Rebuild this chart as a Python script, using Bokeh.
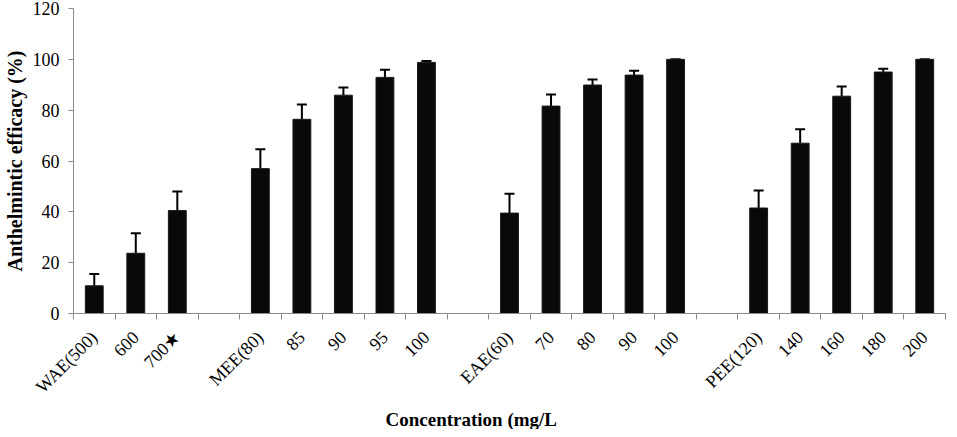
import math
from bokeh.plotting import figure
from bokeh.models import ColumnDataSource, FixedTicker, Whisker, TeeHead, Title, Range1d
from bokeh.embed import file_html
from bokeh.resources import INLINE

# ---- data ----
wae_labels = ["WAE(500)", "600", "700\u2605"]
wae_values = [10.9, 23.7, 40.5]
wae_sd = [4.6, 7.9, 7.5]

mee_labels = ["MEE(80)", "85", "90", "95", "100"]
mee_values = [57.0, 76.4, 85.9, 92.9, 98.8]
mee_sd = [7.6, 5.8, 3.0, 3.0, 0.5]

eae_labels = ["EAE(60)", "70", "80", "90", "100"]
eae_values = [39.5, 81.6, 89.9, 93.8, 100.0]
eae_sd = [7.6, 4.6, 2.2, 1.7, 0.0]

pee_labels = ["PEE(120)", "140", "160", "180", "200"]
pee_values = [41.5, 67.0, 85.5, 95.0, 100.0]
pee_sd = [6.9, 5.5, 3.8, 1.3, 0.0]

y_ticks = [0, 20, 40, 60, 80, 100, 120]

groups = [
    (wae_labels, wae_values, wae_sd),
    (mee_labels, mee_values, mee_sd),
    (eae_labels, eae_values, eae_sd),
    (pee_labels, pee_values, pee_sd),
]

# slot positions: one empty slot between groups
xs, labels, vals, tops = [], [], [], []
slot = 0
for gi, (lab, v, sd) in enumerate(groups):
    if gi > 0:
        slot += 1
    for l, a, s in zip(lab, v, sd):
        xs.append(slot + 0.5)
        labels.append(l)
        vals.append(a)
        tops.append(a + s)
        slot += 1
n_slots = slot

src = ColumnDataSource(dict(x=xs, val=vals, top=tops))

FONT = "Liberation Serif"
GRAY = "#8a8a8a"

p = figure(width=948, height=429, output_backend="svg", toolbar_location=None,
           x_range=Range1d(0, n_slots), y_range=Range1d(0, 120),
           min_border_left=66, min_border_right=3, min_border_top=8,
           min_border_bottom=110)
p.outline_line_color = None
p.grid.visible = False
p.background_fill_color = "white"

p.vbar(x="x", top="val", bottom=0, width=0.43, source=src,
       fill_color="#0a0808", line_color="#1a1818", line_width=1)

w = Whisker(base="x", lower="val", upper="top", source=src,
            line_color="black", line_width=2,
            upper_head=TeeHead(size=10, line_color="black", line_width=2),
            lower_head=None)
p.add_layout(w)

# y axis
ya = p.yaxis[0]
ya.ticker = FixedTicker(ticks=y_ticks)
ya.axis_line_color = GRAY
ya.major_tick_line_color = GRAY
ya.major_tick_out = 5
ya.major_tick_in = 0
ya.minor_tick_line_color = None
ya.major_label_text_font = FONT
ya.major_label_text_font_size = "18px"
ya.major_label_text_color = "black"
ya.major_label_standoff = 9
ya.axis_label = "Anthelmintic efficacy (%)"
ya.axis_label_text_font = FONT
ya.axis_label_text_font_size = "20px"
ya.axis_label_text_font_style = "bold"
ya.axis_label_text_color = "black"
ya.axis_label_standoff = 4

# x axis: labels at bar centres, tick marks at slot boundaries (minor ticks)
xa = p.xaxis[0]
xa.ticker = FixedTicker(ticks=xs, minor_ticks=list(range(n_slots + 1)))
xa.major_label_overrides = {x: l for x, l in zip(xs, labels)}
xa.major_label_orientation = math.pi / 4
xa.axis_line_color = GRAY
xa.major_tick_line_color = None
xa.major_tick_out = 0
xa.major_tick_in = 0
xa.minor_tick_line_color = GRAY
xa.minor_tick_out = 6
xa.minor_tick_in = 0
xa.major_label_text_font = FONT
xa.major_label_text_font_size = "18px"
xa.major_label_text_color = "black"
xa.major_label_standoff = 15

t = Title(text="Concentration (mg/L", align="left", offset=312,
          text_font=FONT, text_font_size="19px", text_font_style="bold",
          text_color="black", standoff=0)
p.add_layout(t, "below")

open("out.html", "w").write(file_html(p, INLINE))
